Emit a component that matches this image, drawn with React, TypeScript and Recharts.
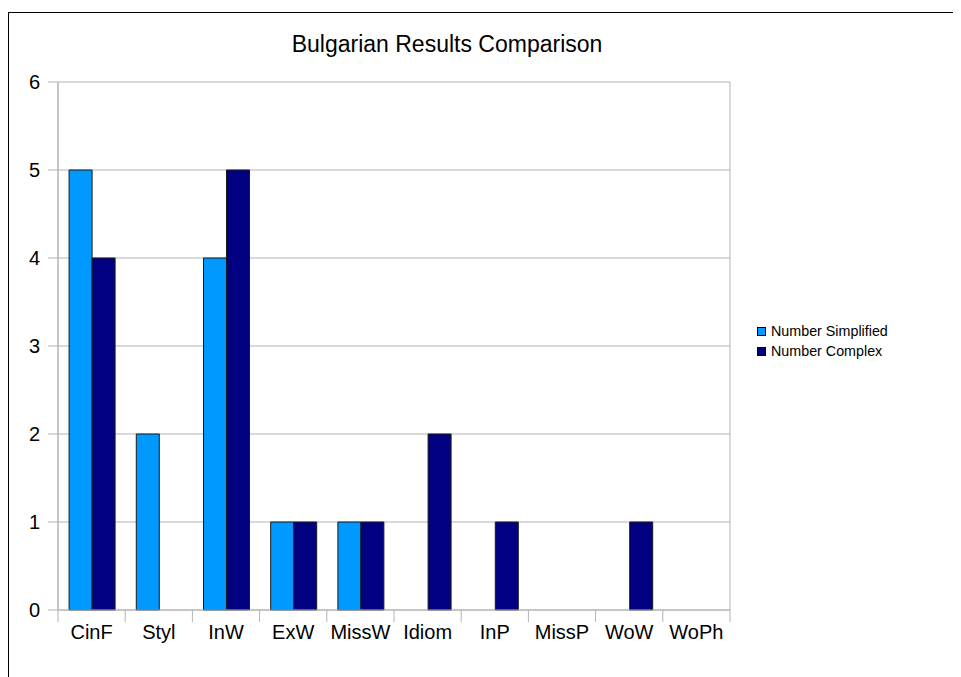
import React from 'react';
import { BarChart, Bar, XAxis, YAxis, CartesianGrid, Legend } from 'recharts';

const categories = ['CinF', 'Styl', 'InW', 'ExW', 'MissW', 'Idiom', 'InP', 'MissP', 'WoW', 'WoPh'];
const simplified = [5, 2, 4, 1, 1, 0, 0, 0, 0, 0];
const complex = [4, 0, 5, 1, 1, 2, 1, 0, 1, 0];
const seriesNames = ['Number Simplified', 'Number Complex'];
const yTicks = [0, 1, 2, 3, 4, 5, 6];

const data = categories.map((name, i) => ({
  name,
  simplified: simplified[i],
  complex: complex[i],
}));

const FONT = '"Liberation Sans", Arial, sans-serif';
const GRID = '#b3b3b3';

function LegendBox({ payload }: any) {
  const items = [...(payload || [])].sort(
    (a: any, b: any) => seriesNames.indexOf(a.value) - seriesNames.indexOf(b.value)
  );
  return (
    <div style={{ fontFamily: FONT, fontSize: 14.3, color: '#000' }}>
      {items.map((p: any) => (
        <div key={p.value} style={{ display: 'flex', alignItems: 'center', height: 20 }}>
          <span
            style={{
              display: 'inline-block',
              width: 7,
              height: 7,
              background: p.color,
              border: '1px solid #000',
              marginRight: 5,
            }}
          />
          {p.value}
        </div>
      ))}
    </div>
  );
}

// category label plus the boundary tick marks either side of the band
function CategoryTick({ x, y, payload, index }: any) {
  const half = payload?.offset ?? 0;
  const last = index === categories.length - 1;
  return (
    <g>
      <line x1={x - half} x2={x - half} y1={y} y2={y + 12} stroke={GRID} />
      {last && <line x1={x + half} x2={x + half} y1={y} y2={y + 12} stroke={GRID} />}
      <text x={x} y={y + 15} dy="0.71em" textAnchor="middle" fill="#000" fontSize={20} fontFamily={FONT}>
        {payload.value}
      </text>
    </g>
  );
}

export default function App() {
  return (
    <div style={{ width: 953, height: 669, overflow: 'hidden', paddingTop: 4, boxSizing: 'border-box' }}>
      <div style={{ position: 'relative', width: 1000, height: 700, border: '1px solid #000', background: '#fff' }}>
        <div
          style={{
            position: 'absolute',
            left: 0,
            top: 20,
            width: 876,
            textAlign: 'center',
            fontFamily: FONT,
            fontSize: 23,
            lineHeight: '22px',
            color: '#000',
          }}
        >
          Bulgarian Results Comparison
        </div>
        <BarChart
          width={940}
          height={660}
          data={data}
          margin={{ top: 69, right: 219, bottom: 23, left: 0 }}
          barCategoryGap="16.5%"
          barGap={0}
        >
          <CartesianGrid
            stroke={GRID}
            verticalCoordinatesGenerator={({ offset }: any) => [offset.left, offset.left + offset.width]}
          />
          <XAxis
            dataKey="name"
            height={40}
            tickLine={false}
            tickSize={0}
            tickMargin={0}
            interval={0}
            axisLine={{ stroke: GRID }}
            tick={<CategoryTick />}
          />
          <YAxis
            width={49}
            domain={[0, 6]}
            ticks={yTicks}
            tickSize={10}
            tickMargin={8}
            tickLine={{ stroke: GRID }}
            axisLine={{ stroke: GRID }}
            tick={{ fill: '#000', fontSize: 20, fontFamily: FONT }}
          />
          <Legend
            layout="vertical"
            align="center"
            verticalAlign="middle"
            wrapperStyle={{ left: 748, top: 308, width: 'auto' }}
            content={<LegendBox />}
          />
          <Bar dataKey="simplified" name={seriesNames[0]} fill="#0099ff" stroke="#1a1a1a" strokeWidth={1} isAnimationActive={false} />
          <Bar dataKey="complex" name={seriesNames[1]} fill="#000080" stroke="#1a1a1a" strokeWidth={1} isAnimationActive={false} />
        </BarChart>
      </div>
    </div>
  );
}
